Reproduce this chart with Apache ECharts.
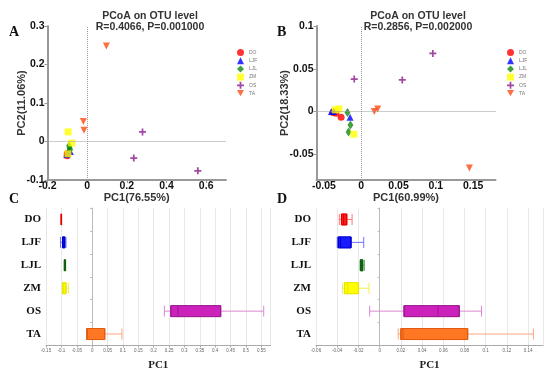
<!DOCTYPE html>
<html><head><meta charset="utf-8">
<script src="https://cdn.jsdelivr.net/npm/echarts@6/dist/echarts.min.js"></script>
<style>html,body{margin:0;padding:0;background:#fff}#c{width:550px;height:373px}</style>
</head><body><div id="c"></div>
<script>
const groups = ['DO','LJF','LJL','ZM','OS','TA'];
// Panel A scatter (PC1, PC2)
const pcoaA_DO  = [[-0.101,-0.037],[-0.100,-0.031],[-0.099,-0.034]];
const pcoaA_LJF = [[-0.103,-0.034],[-0.092,-0.022],[-0.085,-0.026]];
const pcoaA_LJL = [[-0.091,-0.011],[-0.089,-0.017],[-0.086,-0.021]];
const pcoaA_ZM  = [[-0.096,0.025],[-0.078,-0.004],[-0.097,-0.032]];
const pcoaA_OS  = [[0.279,0.025],[0.235,-0.043],[0.558,-0.076]];
const pcoaA_TA  = [[0.097,0.248],[-0.019,0.052],[-0.016,0.029]];
// Panel B scatter
const pcoaB_DO  = [[-0.038,-0.001],[-0.034,-0.002],[-0.027,-0.0066]];
const pcoaB_LJF = [[-0.040,0.0],[-0.037,0.0],[-0.015,-0.0066]];
const pcoaB_LJL = [[-0.0185,-0.001],[-0.0145,-0.0156],[-0.017,-0.024]];
const pcoaB_ZM  = [[-0.035,0.002],[-0.030,0.003],[-0.010,-0.0265]];
const pcoaB_OS  = [[0.096,0.068],[0.055,0.037],[-0.0094,0.038]];
const pcoaB_TA  = [[0.145,-0.066],[0.0175,0.0],[0.022,0.003]];
// Panel C boxplot PC1 [min,Q1,median,Q3,max]
const boxC = [
  [-0.101,-0.1005,-0.100,-0.0995,-0.099],
  [-0.103,-0.096,-0.092,-0.089,-0.085],
  [-0.091,-0.090,-0.089,-0.087,-0.086],
  [-0.097,-0.096,-0.092,-0.085,-0.077],
  [0.235,0.256,0.279,0.418,0.558],
  [-0.018,-0.017,-0.016,0.041,0.097]
];
// Panel D boxplot
const boxD = [
  [-0.038,-0.036,-0.034,-0.031,-0.026],
  [-0.040,-0.039,-0.037,-0.027,-0.015],
  [-0.0185,-0.018,-0.017,-0.016,-0.0145],
  [-0.035,-0.033,-0.030,-0.020,-0.010],
  [-0.0094,0.023,0.055,0.075,0.096],
  [0.0175,0.020,0.022,0.083,0.145]
];
const ticksA_x = [-0.2,0,0.2,0.4,0.6];
const ticksA_y = [-0.1,0,0.1,0.2,0.3];
const ticksB_x = [-0.05,0,0.05,0.1,0.15];
const ticksB_y = [-0.05,0,0.05,0.1];

const scatterColors = ['#ff0000','#0000ff','#118811','#ffff00','#8b1a8b','#ff4a10'];
const symbols = ['circle','triangle','diamond','rect',
  'path://M3,0H5V3H8V5H5V8H3V5H0V3H3Z',
  'path://M0,0L10,0L5,9Z'];
const boxFill =   ['#ff1a1a','#1a1aff','#1f8f1f','#ffff00','#cc22bb','#ff7722'];
const boxBorder = ['#e00000','#0000cc','#106010','#e6e600','#991a8f','#e05a10'];
const boxWhisk =  ['#ff7070','#7070ff','#50a050','#f0f050','#dd88d0','#ffa67a'];

const dataA = [pcoaA_DO,pcoaA_LJF,pcoaA_LJL,pcoaA_ZM,pcoaA_OS,pcoaA_TA];
const dataB = [pcoaB_DO,pcoaB_LJF,pcoaB_LJL,pcoaB_ZM,pcoaB_OS,pcoaB_TA];

const chart = echarts.init(document.getElementById('c'), null, {renderer:'canvas'});
const sans = 'Liberation Sans';
const serif = 'Liberation Serif';

function scatterAxis(min, max, vals, isY, name, nameGap){
  return {
    type:'value', min, max, name, nameLocation:'middle', nameGap, nameMoveOverlap:false,
    nameTextStyle:{fontFamily:sans, fontWeight:'bold', fontSize:11, color:'#333'},
    axisLine:{show:true, onZero:false, lineStyle:{color:'#999', width:2}},
    axisTick:{show:true, length:3, customValues: vals, lineStyle:{color:'#999'}},
    axisLabel:{customValues: vals, fontFamily:sans, fontWeight:'bold', fontSize:10.5, color:'#111', margin: isY?3:1},
    splitLine:{show:false}
  };
}
function boxAxis(min, max, interval){
  return {
    type:'value', min, max, interval,
    name:'PC1', nameLocation:'middle', nameGap:14, nameMoveOverlap:false,
    nameTextStyle:{fontFamily:serif, fontWeight:'bold', fontSize:11, color:'#222'},
    axisLine:{show:true, onZero:false, lineStyle:{color:'#aaa', width:1}},
    axisTick:{show:true, length:2, lineStyle:{color:'#aaa'}},
    axisLabel:{fontFamily:sans, fontSize:4.5, color:'#666', margin:3, showMaxLabel:false,
      formatter: v => String(+v.toFixed(4))},
    splitLine:{show:true, lineStyle:{color:'#e8e8e8', width:1}}
  };
}
function catAxis(gridIndex, visible){
  return {
    gridIndex, show: visible,
    type:'category', data: groups, inverse:true,
    axisLine:{show:true, lineStyle:{color:'#bbb'}},
    axisTick:{show:true, length:2, lineStyle:{color:'#bbb'}},
    axisLabel:{fontFamily:serif, fontWeight:'bold', fontSize:11, color:'#111', margin:5},
    splitLine:{show:false}
  };
}

const series = [];
groups.forEach((g,i)=>{
  series.push({
    name:g, type:'scatter', xAxisIndex:0, yAxisIndex:0, data:dataA[i],
    symbol:symbols[i], symbolSize: i===2?[6,9]:7, itemStyle:{color:scatterColors[i]}, z:3,
    markLine: i===0 ? {silent:true, symbol:'none', label:{show:false},
      lineStyle:{type:'dotted', color:'#999', width:1}, data:[{xAxis:0},{yAxis:0}]} : undefined
  });
  series.push({
    name:g, type:'scatter', xAxisIndex:1, yAxisIndex:1, data:dataB[i],
    symbol:symbols[i], symbolSize: i===2?[6,9]:7, itemStyle:{color:scatterColors[i]}, z:3,
    markLine: i===0 ? {silent:true, symbol:'none', label:{show:false},
      lineStyle:{type:'dotted', color:'#999', width:1}, data:[{xAxis:0},{yAxis:0}]} : undefined
  });
});
function addBox(boxes, xi, yiWhisk, yiBox){
  series.push({
    name:'whisk'+xi, type:'boxplot', layout:'horizontal', xAxisIndex:xi, yAxisIndex:yiWhisk,
    boxWidth:[11,11], silent:true, z:2,
    data: boxes.map((b,i)=>({value:b, itemStyle:{color:boxWhisk[i], borderColor:boxWhisk[i], borderWidth:1}}))
  });
  series.push({
    name:'box'+xi, type:'boxplot', layout:'horizontal', xAxisIndex:xi, yAxisIndex:yiBox,
    boxWidth:[11,11], silent:true, z:3,
    data: boxes.map((b,i)=>({value:[b[1],b[1],b[2],b[3],b[3]], itemStyle:{color:boxFill[i], borderColor:boxBorder[i], borderWidth:1}}))
  });
}
addBox(boxC, 2, 2, 4);
addBox(boxD, 3, 3, 5);

const legendBase = {
  orient:'vertical', itemWidth:7, itemHeight:7, itemGap:1.2, data: groups,
  textStyle:{fontFamily:sans, fontSize:5, color:'#777'}, itemStyle:{borderWidth:0}, selectedMode:false
};

chart.setOption({
  animation:false,
  grid:[
    {left:47.5, top:26, width:178.5, height:154},
    {left:316.5, top:26, width:179, height:154},
    {left:46, top:208, width:224.5, height:137.5},
    {left:316, top:208, width:227, height:137.5}
  ],
  xAxis:[
    Object.assign(scatterAxis(-0.2, 0.7, ticksA_x, false, 'PC1(76.55%)', 12), {gridIndex:0}),
    Object.assign(scatterAxis(-0.06, 0.18, ticksB_x, false, 'PC1(60.99%)', 12), {gridIndex:1}),
    Object.assign(boxAxis(-0.15, 0.58, 0.05), {gridIndex:2}),
    Object.assign(boxAxis(-0.06, 0.154, 0.02), {gridIndex:3})
  ],
  yAxis:[
    Object.assign(scatterAxis(-0.1, 0.3, ticksA_y, true, 'PC2(11.06%)', 20), {gridIndex:0}),
    Object.assign(scatterAxis(-0.08, 0.1, ticksB_y, true, 'PC2(18.33%)', 26), {gridIndex:1}),
    catAxis(2, true),
    catAxis(3, true),
    catAxis(2, false),
    catAxis(3, false)
  ],
  legend:[
    Object.assign({left:232, top:44}, legendBase),
    Object.assign({left:502, top:44}, legendBase)
  ],
  title:[
    {text:'PCoA on OTU level\nR=0.4066, P=0.001000', left:145, top:6, textAlign:'center',
     textStyle:{fontFamily:sans, fontWeight:'bold', fontSize:10.5, lineHeight:11, color:'#333'}},
    {text:'PCoA on OTU level\nR=0.2856, P=0.002000', left:413, top:6, textAlign:'center',
     textStyle:{fontFamily:sans, fontWeight:'bold', fontSize:10.5, lineHeight:11, color:'#333'}}
  ],
  graphic:[
    {type:'text', left:9, top:25, style:{text:'A', font:'bold 14px "Liberation Serif"', fill:'#111'}},
    {type:'text', left:277, top:25, style:{text:'B', font:'bold 14px "Liberation Serif"', fill:'#111'}},
    {type:'text', left:9, top:192, style:{text:'C', font:'bold 14px "Liberation Serif"', fill:'#111'}},
    {type:'text', left:277, top:192, style:{text:'D', font:'bold 14px "Liberation Serif"', fill:'#111'}}
  ],
  series
});
</script></body></html>
